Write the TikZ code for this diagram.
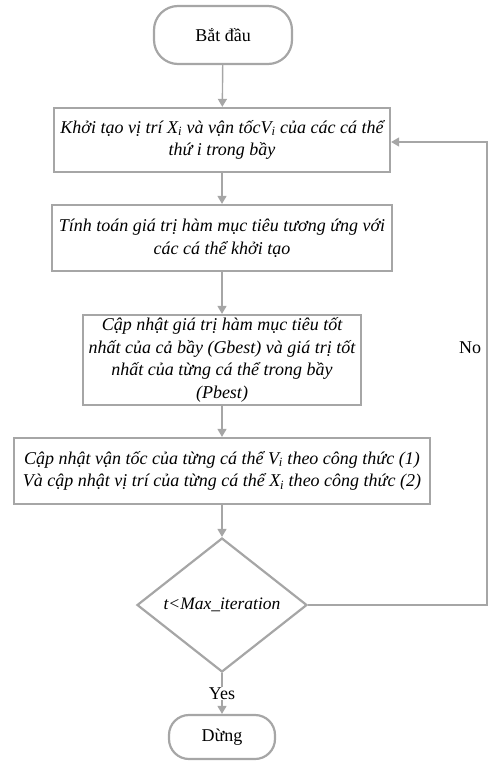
\documentclass[tikz,border=0pt]{standalone}
\usepackage{fontspec}
\setmainfont{Liberation Serif}
\usetikzlibrary{shapes.geometric,arrows.meta}
\definecolor{lg}{HTML}{A6A6A6}
\tikzset{
  procbox/.style={draw=lg, line width=2.2pt, fill=white, inner sep=0pt, align=center, font=\fontsize{18}{22.5}\selectfont\itshape},
  termbox/.style={draw=lg, line width=2.2pt, fill=white, inner sep=0pt, rounded corners=24pt, font=\fontsize{18}{22}\selectfont},
  decbox/.style={draw=lg, line width=2.2pt, fill=white, shape=diamond, inner sep=0pt, aspect=1.27, font=\fontsize{17.5}{20}\selectfont\itshape},
  conn/.style={draw=lg, line width=1.4pt, -{Triangle[width=9pt,length=8pt]}},
  lbl/.style={font=\fontsize{18}{20}\selectfont, inner sep=1pt}
}
\begin{document}
\begin{tikzpicture}[x=1pt,y=-1pt]
\useasboundingbox (0,0) rectangle (497,762);
\node[termbox, minimum width=138pt, minimum height=58pt] (start) at (223,35) {Bắt đầu};
\node[procbox, minimum width=336pt, minimum height=64pt] (b1) at (222,140) {Khởi tạo vị trí X\textsubscript{i} và vận tốcV\textsubscript{i} của các cá thể\\thứ i trong bầy};
\node[procbox, minimum width=340pt, minimum height=66pt] (b2) at (222,238) {Tính toán giá trị hàm mục tiêu tương ứng với\\các cá thể khởi tạo};
\node[procbox, minimum width=278pt, minimum height=90pt] (b3) at (222,360) {Cập nhật giá trị hàm mục tiêu tốt\\nhất của cả bầy (Gbest) và giá trị tốt\\nhất của từng cá thể trong bầy\\(Pbest)};
\node[procbox, minimum width=416pt, minimum height=66pt] (b4) at (222,471) {Cập nhật vận tốc của từng cá thể V\textsubscript{i} theo công thức (1)\\Và cập nhật vị trí của từng cá thể X\textsubscript{i} theo công thức (2)};
\node[decbox, minimum width=170pt, minimum height=134pt] (d) at (222,605) {t<Max\_iteration};
\node[termbox, minimum width=106pt, minimum height=44pt, rounded corners=20pt] (stop) at (222,737) {Dừng};
\coordinate (c1) at (487,605);
\coordinate (c2) at (487,142);
\draw[conn] (start) -- (b1);
\draw[conn] (b1) -- (b2);
\draw[conn] (b2) -- (b3);
\draw[conn] (b3) -- (b4);
\draw[conn] (b4) -- (d);
\draw[conn] (d.south) -- (stop.north) node[lbl, midway, fill=white] (yes) {Yes};
\draw[conn] (d.east) -- (c1) -- (c2) -- (b1.east |- c2);
\node[lbl] (no) at (470,348) {No};
\end{tikzpicture}
\end{document}
